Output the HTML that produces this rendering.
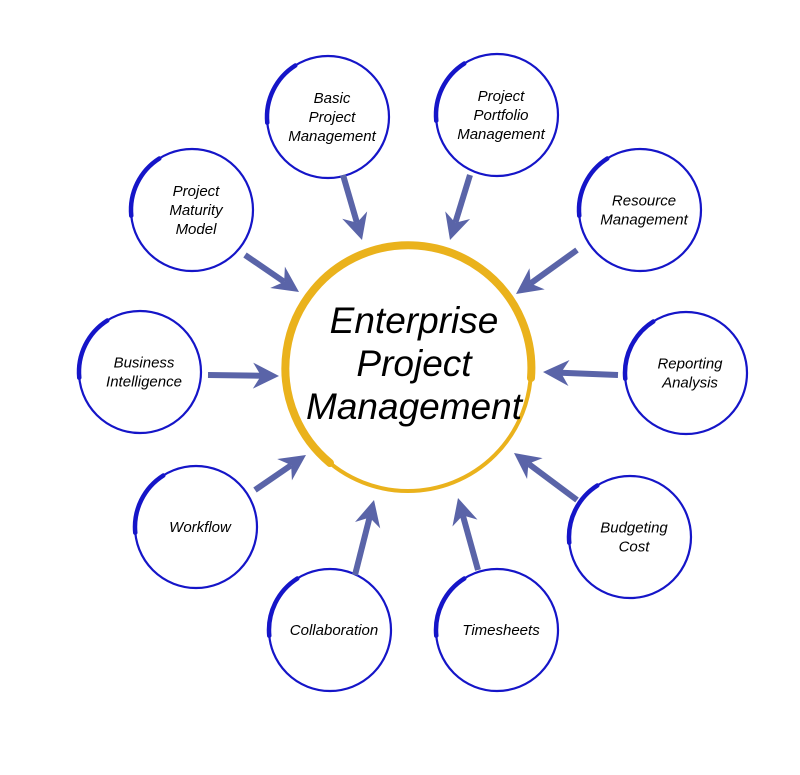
<!DOCTYPE html>
<html><head><meta charset="utf-8"><style>
html,body{margin:0;padding:0;background:#fff;}
svg{display:block}
text{font-family:"Liberation Sans",Arial,sans-serif;font-style:italic;fill:#000;text-anchor:middle}
</style></head><body>
<svg id="s" width="800" height="775" viewBox="0 0 800 775" xmlns="http://www.w3.org/2000/svg">
<circle cx="408" cy="368" r="123" fill="none" stroke="#eab21c" stroke-width="4"/>
<path d="M 531 378 A 123 123 0 1 0 330 463" fill="none" stroke="#eab21c" stroke-width="8" stroke-linecap="round"/>
<text font-size="37" x="414" y="333">Enterprise</text>
<text font-size="37" x="414" y="376">Project</text>
<text font-size="37" x="414" y="419">Management</text>
<g id="g"></g>
</svg>
<script>
var g=document.getElementById('g'),h='';
var C=[[328,117,['Basic','Project','Management']],[497,115,['Project','Portfolio','Management']],[640,210,['Resource','Management']],[686,373,['Reporting','Analysis']],[630,537,['Budgeting','Cost']],[497,630,['Timesheets']],[330,630,['Collaboration']],[196,527,['Workflow']],[140,372,['Business','Intelligence']],[192,210,['Project','Maturity','Model']]];
C.forEach(function(c){var x=c[0],y=c[1],r=61;
h+='<circle cx="'+x+'" cy="'+y+'" r="'+r+'" fill="none" stroke="#1515c8" stroke-width="2.2"/>';
var a1=-0.68*Math.PI,a2=-1.03*Math.PI;
var sx=x+r*Math.cos(a1),sy=y+r*Math.sin(a1),ex=x+r*Math.cos(a2),ey=y+r*Math.sin(a2);
h+='<path d="M'+sx+' '+sy+' A'+r+' '+r+' 0 0 0 '+ex+' '+ey+'" fill="none" stroke="#1515c8" stroke-width="4.5" stroke-linecap="round"/>';
var L=c[2],n=L.length,y0=y-(n-1)*9.5+5;
L.forEach(function(t,i){h+='<text font-size="15" x="'+(x+4)+'" y="'+(y0+i*19)+'">'+t+'</text>';});
});
var A=[[343,175,362,240],[470,175,450,240],[577,250,516,294],[618,375,543,372],[577,500,514,453],[478,570,458,498],[355,575,374,500],[255,490,306,455],[208,375,279,376],[245,255,299,292]];
A.forEach(function(a){var dx=a[2]-a[0],dy=a[3]-a[1],l=Math.hypot(dx,dy),ux=dx/l,uy=dy/l,px=-uy,py=ux;
var hl=26,hw=13,nb=18;
var bx=a[2]-ux*nb,by=a[3]-uy*nb;
h+='<line x1="'+a[0]+'" y1="'+a[1]+'" x2="'+bx+'" y2="'+by+'" stroke="#5a64a8" stroke-width="6"/>';
var p=[[a[2],a[3]],[a[2]-ux*hl+px*hw,a[3]-uy*hl+py*hw],[bx,by],[a[2]-ux*hl-px*hw,a[3]-uy*hl-py*hw]];
h+='<polygon fill="#5a64a8" points="'+p.map(function(q){return q.join(',')}).join(' ')+'"/>';
});
g.innerHTML=h;
</script>
</body></html>
